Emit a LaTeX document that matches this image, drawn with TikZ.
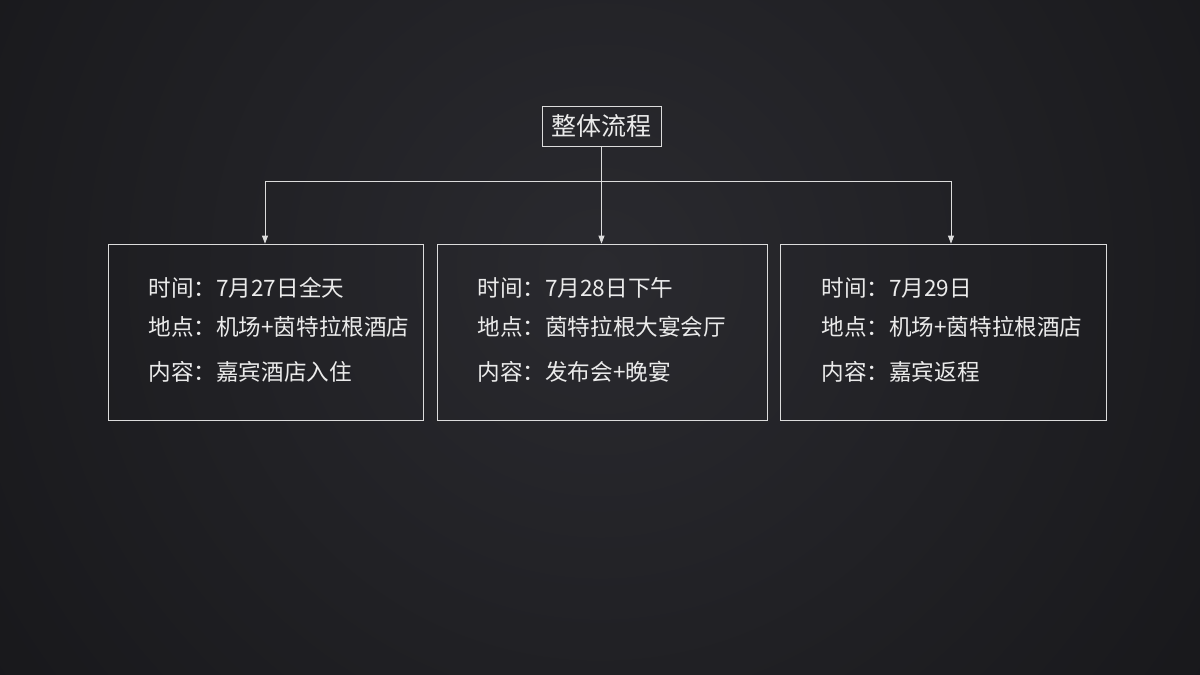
\documentclass[tikz,border=0pt]{standalone}
\usepackage{fontspec}
\setmainfont{Noto Sans CJK SC}
\usetikzlibrary{positioning, arrows.meta}
\definecolor{bgin}{HTML}{2A2A2F}
\definecolor{bgout}{HTML}{0E0E10}
\definecolor{linec}{HTML}{DCDCDC}
\definecolor{textc}{HTML}{EBEBEB}

\begin{document}
\begin{tikzpicture}[x=1pt, y=-1pt, >={Triangle[length=8pt,width=6pt]}, line width=0.8pt,
  link/.style={draw=linec},
  title/.style={draw=linec, text=textc, inner sep=0pt, minimum width=119pt, minimum height=40pt, font=\fontsize{25}{30}\selectfont},
  day/.style={draw=linec, minimum height=176pt, inner sep=0pt},
  info/.style={anchor=west, text=textc, inner sep=0pt, font=\fontsize{22.6}{26}\selectfont}]
\useasboundingbox (0,0) rectangle (1200,675);
\fill[bgout] (0,0) rectangle (1200,675);
\begin{scope}
\clip (0,0) rectangle (1200,675);
\shade[inner color=bgin, outer color=bgout] (600,270) circle (1150);
\end{scope}
% top
\node[title] at (601.5,126) (top) {整体流程};
% days
\node[day, minimum width=315pt] at (265.5,332) (b1) {};
\node[day, minimum width=330pt] at (602,332) (b2) {};
\node[day, minimum width=326pt] at (943,332) (b3) {};
\node[info] at (148,288) (t1) {时间：7月27日全天};
\node[info] at (148,327) (p1) {地点：机场+茵特拉根酒店};
\node[info] at (148,372) (c1) {内容：嘉宾酒店入住};
\node[info] at (477,288) (t2) {时间：7月28日下午};
\node[info] at (477,327) (p2) {地点：茵特拉根大宴会厅};
\node[info] at (477,372) (c2) {内容：发布会+晚宴};
\node[info] at (821,288) (t3) {时间：7月29日};
\node[info] at (821,327) (p3) {地点：机场+茵特拉根酒店};
\node[info] at (821,372) (c3) {内容：嘉宾返程};
% links
\coordinate (j1) at (265,181);
\coordinate (j3) at (951,181);
\draw[link] (j1) -- (j3);
\draw[link, ->] (top.south) -- (top.south |- b2.north);
\draw[link, ->] (j1) -- (j1 |- b1.north);
\draw[link, ->] (j3) -- (j3 |- b3.north);
\end{tikzpicture}
\end{document}
